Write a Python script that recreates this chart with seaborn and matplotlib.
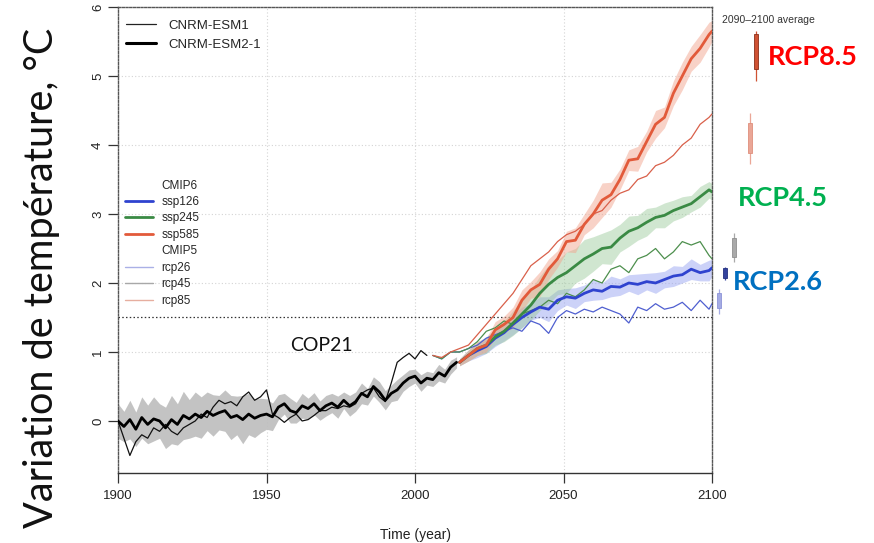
import numpy as np
import pandas as pd
import matplotlib
matplotlib.use("Agg")
import matplotlib.pyplot as plt
import seaborn as sns
from matplotlib.lines import Line2D

# ---------------- data ----------------
hist_years = list(range(1900, 2015, 2))
esm2_hist = [0.00, -0.08, 0.02, -0.12, 0.05,
             -0.05, 0.03, 0.00, -0.10, 0.02,
             -0.05, 0.08, 0.03, 0.10, 0.05,
             0.14, 0.08, 0.12, 0.15, 0.05,
             0.08, 0.02, 0.10, 0.04, 0.08,
             0.10, 0.06, 0.20, 0.25, 0.15,
             0.12, 0.22, 0.18, 0.25, 0.15,
             0.22, 0.26, 0.20, 0.30, 0.22,
             0.28, 0.40, 0.35, 0.50, 0.42,
             0.30, 0.40, 0.45, 0.55, 0.62,
             0.65, 0.55, 0.62, 0.60, 0.70,
             0.65, 0.78, 0.85]
hist_spread = [0.25, 0.22, 0.28, 0.25, 0.30,
               0.28, 0.32, 0.25, 0.30, 0.35,
               0.30, 0.35, 0.28, 0.32, 0.30,
               0.28, 0.30, 0.25, 0.30, 0.32,
               0.28, 0.35, 0.30, 0.28, 0.25,
               0.22, 0.20, 0.18, 0.15, 0.18,
               0.15, 0.18, 0.15, 0.16, 0.14,
               0.15, 0.14, 0.16, 0.12, 0.15,
               0.14, 0.15, 0.12, 0.14, 0.15,
               0.14, 0.12, 0.15, 0.12, 0.12,
               0.10, 0.12, 0.10, 0.10, 0.12,
               0.10, 0.10, 0.08]

esm1_years = list(range(1900, 2005, 2))
esm1_hist = [0.00, -0.25, -0.50, -0.30, -0.20,
             -0.25, -0.10, -0.15, -0.05, -0.15,
             -0.20, -0.10, -0.05, 0.00, 0.10,
             0.05, 0.20, 0.30, 0.25, 0.28,
             0.22, 0.35, 0.42, 0.30, 0.35,
             0.45, 0.10, 0.05, -0.02, 0.05,
             0.10, 0.00, 0.02, 0.08, 0.15,
             0.15, 0.20, 0.18, 0.22, 0.20,
             0.25, 0.40, 0.45, 0.48, 0.35,
             0.28, 0.55, 0.85, 0.92, 0.98,
             0.90, 1.02, 0.95]

ssp_years = list(range(2015, 2100, 3)) + [2100]
ssp585 = [0.85, 0.95, 1.05, 1.10, 1.32, 1.40, 1.50, 1.75, 1.90, 1.98,
          2.20, 2.35, 2.60, 2.62, 2.85, 3.00, 3.20, 3.28, 3.50, 3.78,
          3.80, 4.05, 4.30, 4.40, 4.75, 5.00, 5.25, 5.40, 5.60, 5.65]
ssp585_spread = [0.05, 0.08, 0.10, 0.10, 0.12, 0.12, 0.15, 0.15, 0.12, 0.18,
                 0.15, 0.12, 0.15, 0.18, 0.15, 0.20, 0.25, 0.18, 0.15, 0.15,
                 0.18, 0.15, 0.20, 0.15, 0.18, 0.20, 0.18, 0.20, 0.18, 0.15]
ssp245 = [0.85, 0.95, 1.05, 1.10, 1.22, 1.30, 1.42, 1.55, 1.68, 1.85,
          1.98, 2.08, 2.15, 2.25, 2.35, 2.42, 2.50, 2.52, 2.65, 2.75,
          2.80, 2.88, 2.95, 2.98, 3.05, 3.10, 3.15, 3.25, 3.35, 3.32]
ssp245_spread = [0.05, 0.08, 0.10, 0.12, 0.12, 0.15, 0.18, 0.20, 0.22, 0.25,
                 0.28, 0.25, 0.30, 0.25, 0.28, 0.25, 0.22, 0.25, 0.20, 0.22,
                 0.18, 0.20, 0.15, 0.18, 0.15, 0.15, 0.12, 0.15, 0.12, 0.12]
ssp126 = [0.85, 0.95, 1.02, 1.08, 1.20, 1.28, 1.40, 1.50, 1.58, 1.65,
          1.62, 1.75, 1.80, 1.78, 1.85, 1.90, 1.88, 1.95, 1.94, 2.00,
          1.98, 2.02, 2.00, 2.05, 2.10, 2.12, 2.20, 2.15, 2.18, 2.22]
ssp126_spread = [0.05, 0.08, 0.10, 0.10, 0.12, 0.12, 0.15, 0.15, 0.12, 0.15,
                 0.18, 0.15, 0.12, 0.15, 0.12, 0.15, 0.12, 0.15, 0.12, 0.12,
                 0.15, 0.12, 0.15, 0.12, 0.15, 0.12, 0.15, 0.12, 0.15, 0.12]

rcp_years = list(range(2006, 2100, 3)) + [2100]
rcp85 = [0.95, 0.92, 1.00, 1.05, 1.10, 1.25, 1.40, 1.55, 1.70, 1.85,
         2.05, 2.25, 2.35, 2.45, 2.60, 2.70, 2.75, 2.85, 3.00, 3.05,
         3.20, 3.30, 3.35, 3.50, 3.55, 3.70, 3.75, 3.85, 4.00, 4.10,
         4.30, 4.40, 4.45]
rcp45 = [0.95, 0.90, 1.00, 1.00, 1.05, 1.15, 1.30, 1.35, 1.45, 1.40,
         1.55, 1.60, 1.65, 1.75, 1.70, 1.85, 1.80, 1.90, 2.05, 2.00,
         2.20, 2.25, 2.15, 2.35, 2.40, 2.50, 2.35, 2.45, 2.60, 2.55,
         2.60, 2.40, 2.35]
rcp26 = [0.95, 0.90, 1.00, 1.00, 1.05, 1.10, 1.20, 1.25, 1.30, 1.35,
         1.30, 1.45, 1.40, 1.27, 1.50, 1.60, 1.55, 1.62, 1.58, 1.65,
         1.60, 1.55, 1.42, 1.65, 1.60, 1.70, 1.62, 1.65, 1.72, 1.60,
         1.75, 1.62, 1.70]

# 2090-2100 average boxes
box_names = ["rcp26", "ssp126", "rcp45", "rcp85", "ssp585"]
box_low = [1.55, 2.05, 2.30, 3.73, 4.93]
box_q1 = [1.64, 2.07, 2.37, 3.89, 5.10]
box_q3 = [1.85, 2.21, 2.65, 4.32, 5.61]
box_high = [1.92, 2.23, 2.72, 4.47, 5.65]

x_ticks = [1900, 1950, 2000, 2050, 2100]
y_ticks = [0, 1, 2, 3, 4, 5, 6]

# ---------------- style ----------------
sns.set_theme(style="white")
plt.rcParams["font.family"] = ["Liberation Sans", "DejaVu Sans"]

C_585, C_245, C_126 = "#e25a3a", "#3a8a44", "#2f43cf"
C_r85, C_r45, C_r26 = "#d9604a", "#4d8f4d", "#4f5fd0"

fig = plt.figure(figsize=(8.74, 5.43), dpi=100)
ax = fig.add_axes([118 / 874, 1 - 473 / 543, 594 / 874, 466 / 543])
ax.set_xlim(1900, 2100)
ax.set_ylim(-0.754, 6.0)

dot = (0, (1, 2))
for yv in [1, 2, 3, 4, 5]:
    ax.axhline(yv, color="#d4d4d4", ls=dot, lw=0.8, zorder=0)
for xv in [1950, 2000, 2050]:
    ax.axvline(xv, color="#d4d4d4", ls=dot, lw=0.8, zorder=0)
ax.axhline(1.5, color="#333333", ls=(0, (1.2, 1.8)), lw=0.9, zorder=1)

# bands
def band(years, mean, spread, color, alpha):
    m = np.array(mean); s = np.array(spread)
    ax.fill_between(years, m - s, m + s, color=color, alpha=alpha, lw=0, zorder=1)

band(hist_years, esm2_hist, hist_spread, "#bdbdbd", 0.9)
band(ssp_years, ssp126, ssp126_spread, "#9aa6f2", 0.5)
band(ssp_years, ssp245, ssp245_spread, "#98c998", 0.45)
band(ssp_years, ssp585, ssp585_spread, "#f2a690", 0.5)

def line(x, y, color, lw, z):
    sns.lineplot(x=x, y=y, ax=ax, color=color, linewidth=lw, estimator=None,
                 sort=False, legend=False, zorder=z)

line(esm1_years, esm1_hist, "#111111", 0.9, 3)
line(rcp_years, rcp26, C_r26, 0.9, 3)
line(rcp_years, rcp45, C_r45, 0.9, 3)
line(rcp_years, rcp85, C_r85, 0.9, 3)
line(ssp_years, ssp126, C_126, 2.0, 4)
line(ssp_years, ssp245, C_245, 2.0, 4)
line(ssp_years, ssp585, C_585, 2.0, 4)
line(hist_years, esm2_hist, "#000000", 2.0, 5)

# boxes (2090-2100 average), outside the plot frame
box_pos = [2102.4, 2104.4, 2107.4, 2112.8, 2114.8]
box_face = ["#a4abe3", "#34439e", "#a9a9a9", "#eaa696", "#cf5233"]
box_edge = ["#8c93d8", "#233080", "#8f8f8f", "#df8f7c", "#8a2f1a"]
for xp, lo, q1, q3, hi, fc, ec in zip(box_pos, box_low, box_q1, box_q3, box_high, box_face, box_edge):
    ax.vlines(xp, lo, hi, color=fc, lw=0.9, clip_on=False, zorder=3)
    ax.bar(xp, q3 - q1, bottom=q1, width=1.5, color=fc, edgecolor=ec, lw=0.6,
           clip_on=False, zorder=4)

# spines & ticks
for s in ["left", "top", "right"]:
    ax.spines[s].set_linestyle((0, (1.5, 1.2)))
    ax.spines[s].set_color("#555555")
    ax.spines[s].set_linewidth(1.0)
ax.spines["bottom"].set_color("#333333")
ax.spines["bottom"].set_linewidth(1.0)

ax.set_xticks(x_ticks)
ax.set_yticks(y_ticks)
ax.tick_params(axis="both", length=7, width=0.9, color="#333333", direction="out",
               labelsize=9.5, labelcolor="#222222", left=True, bottom=True)
ax.tick_params(axis="y", labelrotation=90, pad=3)
ax.tick_params(axis="x", pad=5)
for lab in ax.get_yticklabels():
    lab.set_va("center")
ax.set_xlabel("Time (year)", fontsize=10, color="#222222", labelpad=19)
ax.set_ylabel("")

# legends
leg1 = ax.legend(handles=[Line2D([], [], color="#222222", lw=0.9),
                          Line2D([], [], color="#000000", lw=2.2)],
                 labels=["CNRM-ESM1", "CNRM-ESM2-1"],
                 loc="upper left", bbox_to_anchor=(0.0, 0.99), frameon=False,
                 fontsize=9.5, handlelength=2.3, handletextpad=0.9, labelspacing=0.5,
                 borderaxespad=0.2)
ax.add_artist(leg1)

none = Line2D([], [], color="none")
h2 = [none, Line2D([], [], color=C_126, lw=2), Line2D([], [], color=C_245, lw=2),
      Line2D([], [], color=C_585, lw=2), none,
      Line2D([], [], color="#aab0e6", lw=1), Line2D([], [], color="#a8a8a8", lw=1),
      Line2D([], [], color="#e6ae9f", lw=1)]
l2 = ["CMIP6", "ssp126", "ssp245", "ssp585", "CMIP5", "rcp26", "rcp45", "rcp85"]
leg2 = ax.legend(handles=h2, labels=l2, loc="upper left", bbox_to_anchor=(0.0, 0.645),
                 frameon=False, fontsize=8.5, handlelength=2.4, handletextpad=0.7,
                 labelspacing=0.38, borderaxespad=0.2)

# annotations
ann = ["Lato", "DejaVu Sans"]
fig.text(722 / 874, 1 - 20 / 543, "2090\u20132100 average", fontsize=7.5,
         color="#333333", va="center", ha="left")
fig.text(768 / 874, 1 - 57 / 543, "RCP8.5", color="#ff0000", fontsize=19.5,
         fontweight="bold", family=ann, va="center", ha="left")
fig.text(738 / 874, 1 - 198 / 543, "RCP4.5", color="#00b050", fontsize=19.5,
         fontweight="bold", family=ann, va="center", ha="left")
fig.text(733 / 874, 1 - 282 / 543, "RCP2.6", color="#0070c0", fontsize=19.5,
         fontweight="bold", family=ann, va="center", ha="left")
ax.text(1957.9, 1.09, "COP21", fontsize=14, family=ann, color="#111111",
        va="center", ha="left")
fig.text(42 / 874, 1 - 278 / 543, "Variation de température, °C", rotation=90,
         fontsize=28.5, family=ann, color="#111111", va="center", ha="center")

fig.savefig("out.png", dpi=100)
